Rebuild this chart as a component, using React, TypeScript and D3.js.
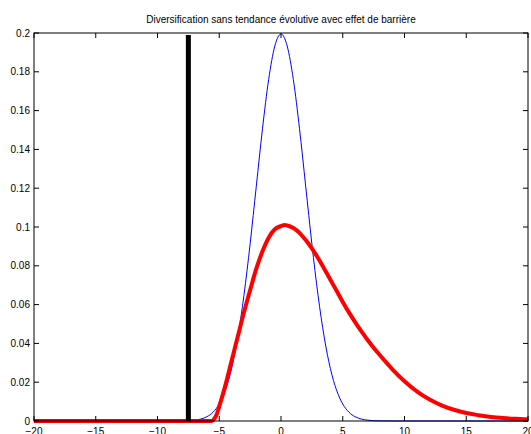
import React from "react";
import * as d3 from "d3";

const TITLE = "Diversification sans tendance évolutive avec effet de barrière";

const blueX = [-20, -10, -8, -7.5, -7, -6.5, -6, -5.5, -5, -4.5, -4, -3.5, -3, -2.5, -2, -1.5, -1, -0.5, 0, 0.5, 1, 1.5, 2, 2.5, 3, 3.5, 4, 4.5, 5, 5.5, 6, 6.5, 7, 7.5, 8, 10, 20];
const blueY = [0, 0, 0.00007, 0.00018, 0.00044, 0.00102, 0.00222, 0.00455, 0.00876, 0.01587, 0.027, 0.0432, 0.0648, 0.0913, 0.121, 0.1506, 0.176, 0.1933, 0.1995, 0.1933, 0.176, 0.1506, 0.121, 0.0913, 0.0648, 0.0432, 0.027, 0.01587, 0.00876, 0.00455, 0.00222, 0.00102, 0.00044, 0.00018, 0.00007, 0, 0];

const redX = [-20, -7.5, -6, -5.6, -5.4, -5.2, -5, -4.5, -4, -3.5, -3, -2.5, -2, -1.5, -1, -0.5, 0, 0.3, 0.5, 1, 1.5, 2, 2.5, 3, 3.5, 4, 4.5, 5, 5.5, 6, 6.5, 7, 7.5, 8, 9, 10, 11, 12, 13, 14, 15, 16, 17, 18, 19, 20];
const redY = [0, 0, 0, 0, 0.0012, 0.0035, 0.0075, 0.0185, 0.031, 0.0435, 0.056, 0.0675, 0.0785, 0.0875, 0.0945, 0.0988, 0.1005, 0.101, 0.1008, 0.0995, 0.097, 0.0933, 0.089, 0.084, 0.0785, 0.0728, 0.0671, 0.0614, 0.056, 0.051, 0.0463, 0.0419, 0.0378, 0.034, 0.0268, 0.0205, 0.0153, 0.0112, 0.0081, 0.0058, 0.0041, 0.003, 0.0021, 0.0015, 0.0011, 0.0008];

const barrierX = -7.5;
const barrierY = [0, 0.199];

const xTicks = [-20, -15, -10, -5, 0, 5, 10, 15, 20];
const yTicks = [0, 0.02, 0.04, 0.06, 0.08, 0.1, 0.12, 0.14, 0.16, 0.18, 0.2];

const W = 531, H = 434;
const L = 34, R = 528, T = 33, B = 421;

export default function App() {
  const x = d3.scaleLinear().domain([-20, 20]).range([L, R]);
  const y = d3.scaleLinear().domain([0, 0.2]).range([B, T]);
  const line = d3
    .line<[number, number]>()
    .x((d) => x(d[0]))
    .y((d) => y(d[1]))
    .curve(d3.curveMonotoneX);
  const blue = line(blueX.map((v, i) => [v, blueY[i]] as [number, number])) || "";
  const red = line(redX.map((v, i) => [v, redY[i]] as [number, number])) || "";
  const fmtX = (v: number) => (v < 0 ? "\u2212" + Math.abs(v) : String(v));
  const fmtY = (v: number) => String(+v.toFixed(2));
  const font = "'Liberation Sans', Arial, Helvetica, sans-serif";
  const tl = 5;
  return (
    <svg
      width={W}
      height={H}
      style={{ position: "absolute", left: 0, top: 0, background: "#fff" }}
      fontFamily={font}
    >
      <rect x={0} y={0} width={W} height={H} fill="#fff" />
      <defs>
        <clipPath id="plotclip">
          <rect x={L - 3} y={T - 3} width={R - L + 6} height={B - T + 6} />
        </clipPath>
      </defs>
      <g clipPath="url(#plotclip)">
        <path d={blue} fill="none" stroke="#0000ff" strokeWidth={1} />
        <path d={red} fill="none" stroke="#ff0000" strokeWidth={4} strokeLinejoin="round" />
        <line
          x1={x(barrierX)}
          x2={x(barrierX)}
          y1={y(barrierY[0])}
          y2={y(barrierY[1])}
          stroke="#000"
          strokeWidth={5}
        />
      </g>
      <rect x={L} y={T} width={R - L} height={B - T} fill="none" stroke="#000" strokeWidth={1} />
      {xTicks.map((t) => (
        <g key={"x" + t}>
          <line x1={x(t)} x2={x(t)} y1={B} y2={B - tl} stroke="#000" />
          <line x1={x(t)} x2={x(t)} y1={T} y2={T + tl} stroke="#000" />
          <text x={x(t)} y={435} fontSize={10} textAnchor="middle" fill="#000">
            {fmtX(t)}
          </text>
        </g>
      ))}
      {yTicks.map((t) => (
        <g key={"y" + t}>
          <line x1={L} x2={L + tl} y1={y(t)} y2={y(t)} stroke="#000" />
          <line x1={R} x2={R - tl} y1={y(t)} y2={y(t)} stroke="#000" />
          <text x={30} y={y(t)} dy="0.35em" fontSize={10} textAnchor="end" fill="#000">
            {fmtY(t)}
          </text>
        </g>
      ))}
      <text x={(L + R) / 2} y={23} fontSize={10} textAnchor="middle" fill="#000">
        {TITLE}
      </text>
    </svg>
  );
}
